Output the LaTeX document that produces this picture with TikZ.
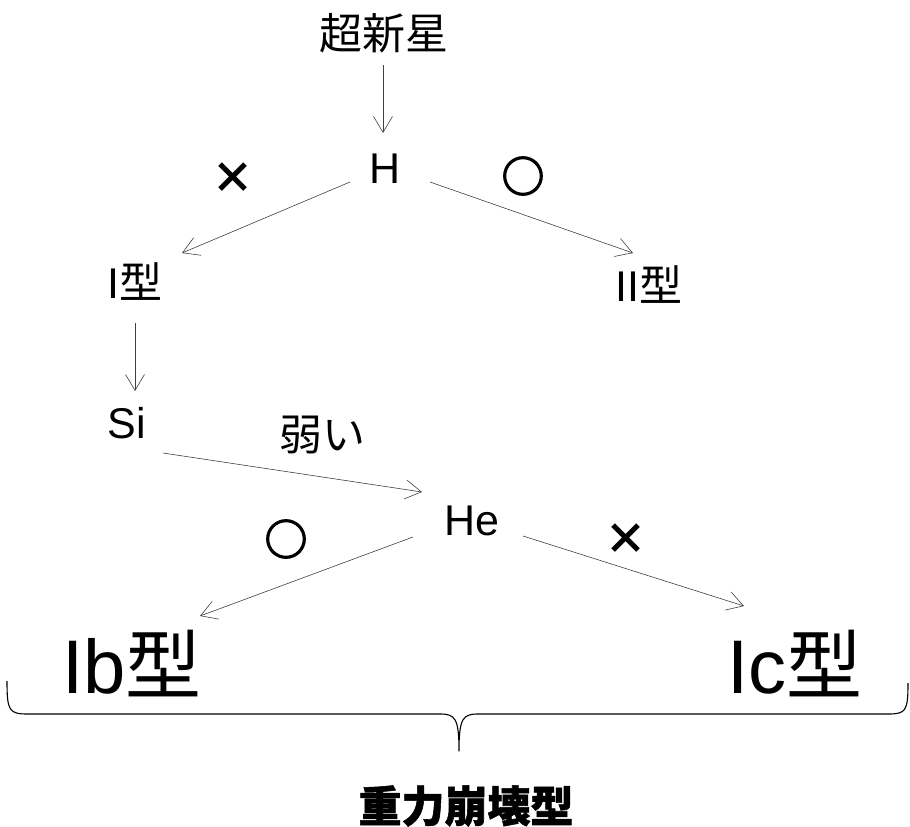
\documentclass[tikz,border=0pt]{standalone}
\usepackage{fontspec}
\setmainfont{Liberation Sans}
\newfontfamily\cjk{Noto Sans CJK JP}
\newfontfamily\cjkheavy{Noto Sans CJK JP}[BoldFeatures={FakeBold=1.3}]
\newfontfamily\cjkring{Noto Sans CJK JP}[BoldFeatures={FakeBold=2.5}]
\usetikzlibrary{arrows.meta,calc}
\tikzset{
  lbl/.style={inner sep=0pt, outer sep=0pt, anchor=center, font=\fontsize{43}{50}\selectfont},
  biglbl/.style={inner sep=0pt, outer sep=0pt, anchor=center, font=\fontsize{76}{84}\selectfont},
  arr/.style={draw=black!75, line width=0.6pt, -{Straight Barb[length=16pt,width=19pt,line width=0.6pt]}},
  bracepath/.style={draw=black, line width=1.1pt, line join=round},
}
\begin{document}
\begin{tikzpicture}[x=1pt,y=-1pt]
\useasboundingbox (0,0) rectangle (910,827);
\node[lbl] (sn) at (384,33) {\cjk 超新星};
\node[lbl] (H) at (385,169) {H};
\node[lbl] (x1) at (233,178) {\cjk\bfseries ×};
\node[lbl] (o1) at (523,176) {\cjkring\bfseries ○};
\node[lbl] (I) at (135,282) {I\cjk 型};
\node[lbl] (II) at (649,285) {II\cjk 型};
\node[lbl] (Si) at (127,423) {Si};
\node[lbl] (w) at (322,435) {\cjk 弱い};
\node[lbl] (He) at (472,521) {He};
\node[lbl] (o2) at (286,539) {\cjkring\bfseries ○};
\node[lbl] (x2) at (626,539) {\cjk\bfseries ×};
\node[biglbl] (Ib) at (132,664) {Ib\cjk 型};
\node[biglbl] (Ic) at (795,664) {Ic\cjk 型};
\node[lbl] (g) at (466,806) {\cjkheavy\bfseries 重力崩壊型};

\draw[arr] ($(sn)+(-1,32)$) -- ($(H)+(-2,-36)$);
\draw[arr] ($(H)+(-35,13)$) -- ($(I)+(47,-29)$);
\draw[arr] ($(H)+(45,13)$) -- ($(II)+(-16,-32)$);
\draw[arr] ($(I)+(0,41)$) -- ($(Si)+(8,-32)$);
\draw[arr] ($(Si)+(36,30)$) -- ($(He)+(-50,-29)$);
\draw[arr] ($(He)+(-59,16)$) -- ($(Ib)+(68,-48)$);
\draw[arr] ($(He)+(51,15)$) -- ($(Ic)+(-51,-58)$);

\coordinate (bl) at (7,681);
\coordinate (bt) at (459,751);
\coordinate (br) at (908,683);
\draw[bracepath] (bl) .. controls (7,711) and (9,714) .. (28,714) -- (440,714)
  .. controls (455,714) and (459,718) .. (bt)
  .. controls (459,718) and (463,714) .. (478,714) -- (888,714)
  .. controls (906,714) and (908,711) .. (br);
\end{tikzpicture}
\end{document}
